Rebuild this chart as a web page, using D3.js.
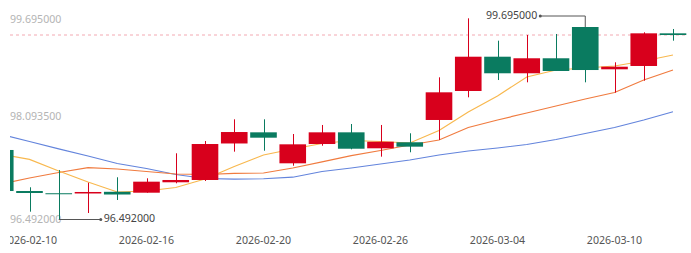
<!DOCTYPE html>
<html>
<head>
<meta charset="utf-8">
<script src="https://cdn.jsdelivr.net/npm/d3@7/dist/d3.min.js"></script>
<style>
  html, body { margin: 0; padding: 0; background: #fff; }
  svg { display: block; }
</style>
</head>
<body>
<svg id="chart" width="691" height="253"></svg>
<script>
// ---------- data ----------
const dates = ["2026-02-09","2026-02-10","2026-02-11","2026-02-12","2026-02-13","2026-02-16","2026-02-17","2026-02-18","2026-02-19","2026-02-20","2026-02-23","2026-02-24","2026-02-25","2026-02-26","2026-02-27","2026-03-02","2026-03-03","2026-03-04","2026-03-05","2026-03-06","2026-03-09","2026-03-10","2026-03-11","2026-03-12"];
const openVals  = [97.654, 96.973, 96.936, 96.932, 96.960, 96.945, 97.118, 97.156, 97.762, 97.947, 97.433, 97.753, 97.947, 97.682, 97.782, 98.152, 98.633, 99.202, 98.927, 99.176, 99.695, 98.993, 99.048, 99.590];
const closeVals = [96.973, 96.940, 96.934, 96.957, 96.915, 97.128, 97.156, 97.753, 97.952, 97.858, 97.748, 97.947, 97.675, 97.791, 97.709, 98.611, 99.202, 98.927, 99.176, 98.965, 98.981, 99.036, 99.590, 99.562];
const highVals  = [97.654, 97.035, 97.322, 97.111, 97.201, 97.184, 97.599, 97.803, 98.163, 98.163, 97.919, 98.069, 98.085, 98.069, 97.931, 98.860, 99.839, 99.468, 99.562, 99.579, 99.695, 99.109, 99.607, 99.662];
const lowVals   = [96.973, 96.630, 96.492, 96.608, 96.824, 96.945, 97.101, 97.139, 97.626, 97.642, 97.393, 97.725, 97.665, 97.543, 97.616, 97.820, 98.528, 98.815, 98.777, 98.965, 98.777, 98.605, 98.804, 99.468];
const ma5  = [97.587, 97.499, 97.305, 97.123, 96.957, 96.973, 97.031, 97.172, 97.380, 97.571, 97.670, 97.762, 97.811, 97.795, 97.770, 97.977, 98.284, 98.550, 98.865, 98.981, 99.015, 99.048, 99.131, 99.230];
const ma10 = [97.089, 97.189, 97.280, 97.360, 97.338, 97.297, 97.255, 97.247, 97.267, 97.272, 97.355, 97.458, 97.559, 97.645, 97.737, 97.820, 98.027, 98.152, 98.268, 98.384, 98.500, 98.608, 98.815, 98.981];
const ma20 = [97.914, 97.795, 97.672, 97.554, 97.430, 97.347, 97.247, 97.181, 97.172, 97.177, 97.202, 97.297, 97.355, 97.421, 97.488, 97.571, 97.637, 97.687, 97.745, 97.828, 97.928, 98.027, 98.152, 98.289];
const yTickVals = [96.492, 98.0935, 99.695];
const xTickDates = ["2026-02-10","2026-02-16","2026-02-20","2026-02-26","2026-03-04","2026-03-10"];
const maxMark = { date: "2026-03-09", value: 99.695, label: "99.695000" };
const minMark = { date: "2026-02-11", value: 96.492, label: "96.492000" };
const lastClose = closeVals[closeVals.length - 1];

// ---------- styles ----------
const UP = "#d8001c", DOWN = "#0a7b60";
const FONT = "'Noto Sans', 'Open Sans', sans-serif";

const svg = d3.select("#chart");
const W = 691, H = 253;
const clipLeft = 10;

const x = d3.scalePoint().domain(dates).range([0.25, 673]).padding(0);
const step = x.step();
const bodyW = step * 0.91;
const y = d3.scaleLinear().domain([96.492, 99.695]).range([220, 27]);

svg.append("defs").append("clipPath").attr("id", "clip")
  .append("rect").attr("x", clipLeft).attr("y", 0).attr("width", W - clipLeft).attr("height", H);

const g = svg.append("g").attr("clip-path", "url(#clip)");

// y-axis labels (inside)
g.selectAll("text.ylab").data(yTickVals).enter().append("text")
  .attr("class", "ylab")
  .attr("x", clipLeft)
  .attr("y", d => y(d) - (d === yTickVals[0] ? 0 : 6.5))
  .attr("dominant-baseline", "middle")
  .attr("fill", "#b4b4b4")
  .attr("font-family", FONT).attr("font-size", 10.6)
  .text(d => d.toFixed(6));

// last close mark line
g.append("line")
  .attr("x1", clipLeft).attr("x2", 686)
  .attr("y1", y(lastClose)).attr("y2", y(lastClose))
  .attr("stroke", "#f3a9b2").attr("stroke-width", 1)
  .attr("stroke-dasharray", "3,3");

// MA lines
const maDefs = [
  { vals: ma20, color: "#6384dc" },
  { vals: ma10, color: "#f07b3f" },
  { vals: ma5,  color: "#f8b84e" }
];
const lineGen = d3.line().x((d, i) => x(dates[i])).y(d => y(d));
maDefs.forEach(m => {
  g.append("path").attr("d", lineGen(m.vals))
    .attr("fill", "none").attr("stroke", m.color).attr("stroke-width", 1.2);
});

// candles
const candles = dates.map((d, i) => ({ d, o: openVals[i], c: closeVals[i], h: highVals[i], l: lowVals[i] }));
const cg = g.selectAll("g.candle").data(candles).enter().append("g").attr("class", "candle");
cg.append("line")
  .attr("x1", d => Math.round(x(d.d)) + 0.5).attr("x2", d => Math.round(x(d.d)) + 0.5)
  .attr("y1", d => y(d.h)).attr("y2", d => y(d.l))
  .attr("stroke", d => d.c > d.o ? UP : DOWN).attr("stroke-width", 1);
cg.append("rect")
  .attr("x", d => x(d.d) - bodyW / 2)
  .attr("width", bodyW)
  .attr("y", d => y(Math.max(d.o, d.c)))
  .attr("height", d => Math.max(1, Math.abs(y(d.o) - y(d.c))))
  .attr("fill", d => d.c > d.o ? UP : DOWN);

// max annotation
{
  const px = x(maxMark.date), py = y(maxMark.value);
  const ly = py - 11, dotX = px - 45;
  g.append("path").attr("d", `M${dotX},${ly}H${px}V${py}`)
    .attr("fill", "none").attr("stroke", "#555").attr("stroke-width", 1);
  g.append("circle").attr("cx", dotX).attr("cy", ly).attr("r", 1.5).attr("fill", "#555");
  g.append("text").attr("x", dotX - 3).attr("y", ly).attr("text-anchor", "end")
    .attr("dominant-baseline", "middle").attr("fill", "#444")
    .attr("font-family", FONT).attr("font-size", 10.6).text(maxMark.label);
}
// min annotation
{
  const px = x(minMark.date), py = y(minMark.value);
  const dotX = px + 42;
  g.append("path").attr("d", `M${px},${py - 0.5}H${dotX}`)
    .attr("fill", "none").attr("stroke", "#555").attr("stroke-width", 1);
  g.append("circle").attr("cx", dotX).attr("cy", py - 0.5).attr("r", 1.5).attr("fill", "#555");
  g.append("text").attr("x", dotX + 3).attr("y", py - 0.5).attr("text-anchor", "start")
    .attr("dominant-baseline", "middle").attr("fill", "#444")
    .attr("font-family", FONT).attr("font-size", 10.6).text(minMark.label);
}

// x-axis labels
g.selectAll("text.xlab").data(xTickDates).enter().append("text")
  .attr("class", "xlab")
  .attr("x", d => x(d)).attr("y", 241)
  .attr("text-anchor", "middle").attr("dominant-baseline", "middle")
  .attr("fill", "#555")
  .attr("font-family", FONT).attr("font-size", 10.6)
  .text(d => d);
</script>
</body>
</html>
